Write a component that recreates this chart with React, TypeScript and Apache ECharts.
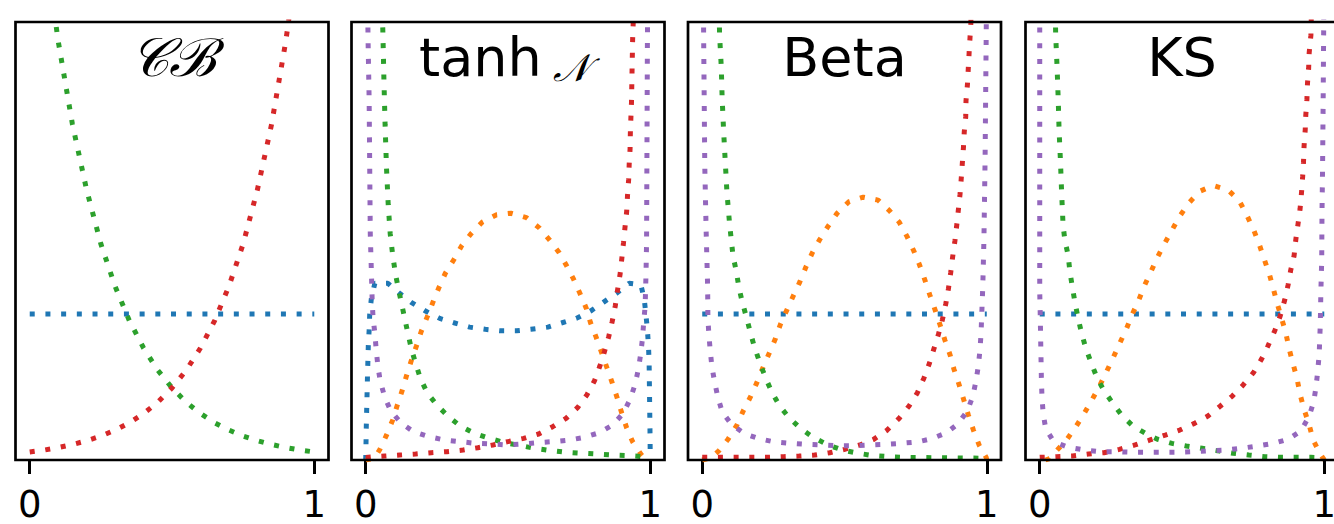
import React, { useEffect, useRef } from "react";
import * as echarts from "echarts";

// ---------- data ----------
const panelTitles = ["𝒞ℬ", "tanh", "Beta", "KS"];
const subTitle = "𝒩";
const tickValues = [0, 1];
const colors = ["#1f77b4", "#ff7f0e", "#2ca02c", "#d62728", "#9467bd"];

// Panel 1: continuous Bernoulli
const cbX = [0, 0.05, 0.1, 0.15, 0.2, 0.25, 0.3, 0.35, 0.4, 0.45, 0.5, 0.55, 0.6, 0.65, 0.7, 0.75, 0.8, 0.85, 0.9, 0.95, 1];
const cbBlue = [1, 1, 1, 1, 1, 1, 1, 1, 1, 1, 1, 1, 1, 1, 1, 1, 1, 1, 1, 1, 1];
const cbGreen = [4.46, 3.58, 2.87, 2.3, 1.85, 1.48, 1.19, 0.955, 0.767, 0.615, 0.494, 0.396, 0.318, 0.255, 0.205, 0.164, 0.132, 0.106, 0.085, 0.068, 0.055];
const cbRed = [0.055, 0.068, 0.085, 0.106, 0.132, 0.164, 0.205, 0.255, 0.318, 0.396, 0.494, 0.615, 0.767, 0.955, 1.19, 1.48, 1.85, 2.3, 2.87, 3.58, 4.46];

// Panel 2: tanh-normal
const tanhBlue = [[0, 0], [0.002, 0.23], [0.006, 0.56], [0.009, 0.78], [0.012, 0.89], [0.014, 1.0], [0.02, 1.11], [0.032, 1.21], [0.078, 1.21], [0.12, 1.14], [0.16, 1.08], [0.21, 1.02], [0.26, 0.97], [0.31, 0.94], [0.365, 0.91], [0.42, 0.895], [0.474, 0.885], [0.53, 0.885], [0.58, 0.895], [0.64, 0.91], [0.69, 0.94], [0.74, 0.97], [0.79, 1.02], [0.835, 1.08], [0.88, 1.14], [0.925, 1.21], [0.967, 1.2], [0.979, 1.1], [0.985, 0.99], [0.99, 0.89], [0.994, 0.77], [0.996, 0.66], [0.999, 0.2], [1, 0]];
const tanhOrange = [[0, 0], [0.03, 0.01], [0.049, 0.07], [0.073, 0.17], [0.094, 0.27], [0.11, 0.37], [0.128, 0.475], [0.143, 0.575], [0.16, 0.68], [0.178, 0.78], [0.195, 0.88], [0.216, 0.98], [0.236, 1.08], [0.257, 1.18], [0.28, 1.28], [0.309, 1.37], [0.338, 1.47], [0.37, 1.55], [0.41, 1.63], [0.46, 1.68], [0.51, 1.69], [0.565, 1.66], [0.61, 1.59], [0.645, 1.51], [0.68, 1.42], [0.706, 1.33], [0.73, 1.24], [0.753, 1.14], [0.775, 1.04], [0.79, 0.94], [0.81, 0.84], [0.83, 0.73], [0.848, 0.63], [0.866, 0.53], [0.883, 0.43], [0.9, 0.32], [0.917, 0.22], [0.938, 0.125], [0.967, 0.04], [0.985, 0.0]];
const tanhGreen = [[0.05, 3.5], [0.06, 2.95], [0.064, 2.6], [0.068, 2.3], [0.073, 2.0], [0.079, 1.75], [0.086, 1.55], [0.095, 1.4], [0.105, 1.27], [0.115, 1.17], [0.125, 1.08], [0.137, 0.97], [0.148, 0.87], [0.16, 0.765], [0.174, 0.67], [0.192, 0.56], [0.216, 0.46], [0.25, 0.377], [0.289, 0.3], [0.332, 0.233], [0.382, 0.183], [0.435, 0.148], [0.488, 0.119], [0.54, 0.1], [0.593, 0.08], [0.652, 0.064], [0.704, 0.053], [0.76, 0.046], [0.81, 0.041], [0.868, 0.034], [0.924, 0.03], [0.979, 0.023], [1, 0.02]];
const tanhRed = [[0, 0.018], [0.067, 0.027], [0.119, 0.034], [0.175, 0.041], [0.23, 0.05], [0.285, 0.057], [0.342, 0.068], [0.394, 0.084], [0.447, 0.103], [0.5, 0.126], [0.555, 0.148], [0.608, 0.178], [0.657, 0.228], [0.704, 0.285], [0.745, 0.36], [0.777, 0.445], [0.804, 0.543], [0.823, 0.644], [0.839, 0.742], [0.854, 0.845], [0.866, 0.947], [0.877, 1.055], [0.885, 1.164], [0.894, 1.274], [0.9, 1.38], [0.906, 1.49], [0.911, 1.59], [0.917, 1.7], [0.92, 1.81], [0.924, 1.92], [0.926, 2.03], [0.929, 2.13], [0.93, 2.24], [0.932, 2.35], [0.934, 2.45], [0.936, 2.67], [0.938, 2.88], [0.94, 2.99], [0.945, 3.5]];
const tanhPurple = [[0.005, 3.5], [0.008, 2.9], [0.012, 2.47], [0.014, 2.01], [0.016, 1.55], [0.02, 1.28], [0.023, 1.07], [0.026, 0.97], [0.032, 0.87], [0.037, 0.75], [0.043, 0.64], [0.051, 0.54], [0.067, 0.43], [0.087, 0.34], [0.123, 0.255], [0.168, 0.194], [0.222, 0.16], [0.277, 0.137], [0.33, 0.126], [0.386, 0.114], [0.44, 0.11], [0.497, 0.103], [0.552, 0.11], [0.605, 0.119], [0.66, 0.126], [0.716, 0.137], [0.768, 0.155], [0.821, 0.187], [0.868, 0.24], [0.905, 0.32], [0.929, 0.415], [0.947, 0.52], [0.959, 0.63], [0.967, 0.735], [0.973, 0.84], [0.977, 0.947], [0.982, 1.055], [0.985, 1.274], [0.987, 1.49], [0.99, 2.9], [0.993, 3.5]];

// Panel 3: Beta
const betaBlue = [[0, 1], [1, 1]];
const betaOrange = [[0, 0], [0.03, 0.015], [0.059, 0.064], [0.09, 0.14], [0.122, 0.24], [0.145, 0.34], [0.169, 0.43], [0.192, 0.53], [0.213, 0.63], [0.235, 0.73], [0.257, 0.83], [0.275, 0.93], [0.298, 1.03], [0.319, 1.12], [0.343, 1.22], [0.364, 1.32], [0.387, 1.42], [0.413, 1.51], [0.442, 1.6], [0.474, 1.69], [0.516, 1.77], [0.566, 1.8], [0.618, 1.78], [0.657, 1.71], [0.692, 1.63], [0.72, 1.53], [0.744, 1.43], [0.763, 1.34], [0.783, 1.23], [0.8, 1.13], [0.818, 1.03], [0.836, 0.925], [0.853, 0.82], [0.871, 0.72], [0.885, 0.62], [0.902, 0.52], [0.918, 0.42], [0.935, 0.31], [0.953, 0.205], [0.973, 0.103], [0.998, 0.018], [1, 0]];
const betaGreen = [[0.055, 3.5], [0.061, 2.91], [0.067, 2.69], [0.07, 2.48], [0.075, 2.26], [0.081, 2.04], [0.087, 1.83], [0.096, 1.62], [0.108, 1.4], [0.12, 1.29], [0.129, 1.18], [0.141, 1.08], [0.155, 0.98], [0.169, 0.875], [0.184, 0.77], [0.202, 0.67], [0.223, 0.56], [0.246, 0.46], [0.272, 0.37], [0.305, 0.29], [0.345, 0.217], [0.39, 0.155], [0.442, 0.103], [0.493, 0.068], [0.548, 0.046], [0.601, 0.03], [0.654, 0.023], [0.709, 0.018], [0.85, 0.015], [1, 0.012]];
const betaRed = [[0, 0.018], [0.231, 0.018], [0.286, 0.023], [0.34, 0.027], [0.395, 0.034], [0.448, 0.05], [0.501, 0.073], [0.554, 0.103], [0.601, 0.14], [0.65, 0.205], [0.692, 0.285], [0.727, 0.37], [0.756, 0.46], [0.779, 0.56], [0.798, 0.66], [0.814, 0.76], [0.83, 0.86], [0.844, 0.96], [0.856, 1.07], [0.865, 1.17], [0.873, 1.28], [0.88, 1.39], [0.888, 1.5], [0.894, 1.6], [0.9, 1.71], [0.906, 1.82], [0.91, 1.92], [0.914, 2.03], [0.918, 2.14], [0.921, 2.25], [0.926, 2.35], [0.927, 2.46], [0.932, 2.57], [0.935, 2.68], [0.938, 2.79], [0.941, 2.89], [0.944, 2.99], [0.95, 3.5]];
const betaPurple = [[0.003, 3.5], [0.005, 2.9], [0.009, 2.01], [0.014, 1.55], [0.019, 1.19], [0.02, 0.97], [0.023, 0.87], [0.028, 0.75], [0.034, 0.64], [0.043, 0.54], [0.055, 0.43], [0.07, 0.33], [0.102, 0.245], [0.149, 0.18], [0.2, 0.146], [0.255, 0.123], [0.31, 0.114], [0.366, 0.107], [0.423, 0.103], [0.477, 0.098], [0.533, 0.098], [0.587, 0.103], [0.642, 0.107], [0.697, 0.114], [0.754, 0.123], [0.806, 0.146], [0.857, 0.185], [0.9, 0.25], [0.932, 0.337], [0.951, 0.438], [0.962, 0.54], [0.97, 0.64], [0.976, 0.75], [0.98, 0.87], [0.982, 0.98], [0.986, 1.19], [0.99, 1.51], [0.994, 2.05], [0.998, 2.91], [1, 3.5]];

// Panel 4: KS
const ksBlue = [[0, 1], [1, 1]];
const ksOrange = [[0.02, 0], [0.035, 0.01], [0.056, 0.057], [0.094, 0.137], [0.127, 0.228], [0.155, 0.315], [0.182, 0.406], [0.209, 0.502], [0.233, 0.598], [0.257, 0.696], [0.28, 0.795], [0.304, 0.895], [0.324, 0.993], [0.347, 1.09], [0.367, 1.19], [0.391, 1.29], [0.414, 1.39], [0.438, 1.48], [0.465, 1.575], [0.492, 1.67], [0.524, 1.76], [0.562, 1.84], [0.61, 1.88], [0.661, 1.85], [0.7, 1.78], [0.727, 1.68], [0.751, 1.58], [0.771, 1.48], [0.788, 1.38], [0.806, 1.28], [0.82, 1.18], [0.835, 1.07], [0.85, 0.97], [0.865, 0.87], [0.876, 0.765], [0.89, 0.66], [0.904, 0.56], [0.915, 0.45], [0.929, 0.347], [0.947, 0.24], [0.961, 0.137], [0.986, 0.041], [1, 0]];
const ksGreen = [[0.052, 3.5], [0.056, 2.91], [0.061, 2.69], [0.065, 2.47], [0.068, 2.26], [0.073, 2.04], [0.077, 1.83], [0.082, 1.61], [0.088, 1.51], [0.1, 1.4], [0.106, 1.29], [0.115, 1.18], [0.124, 1.078], [0.135, 0.97], [0.147, 0.87], [0.162, 0.765], [0.18, 0.67], [0.202, 0.56], [0.226, 0.475], [0.257, 0.388], [0.288, 0.308], [0.327, 0.233], [0.371, 0.183], [0.414, 0.142], [0.465, 0.114], [0.515, 0.096], [0.571, 0.08], [0.624, 0.064], [0.68, 0.046], [0.735, 0.034], [0.791, 0.023], [0.845, 0.018], [0.953, 0.018], [1, 0.015]];
const ksRed = [[0, 0.018], [0.059, 0.023], [0.115, 0.027], [0.171, 0.041], [0.226, 0.05], [0.28, 0.073], [0.335, 0.103], [0.388, 0.137], [0.441, 0.171], [0.492, 0.205], [0.544, 0.251], [0.591, 0.301], [0.635, 0.37], [0.677, 0.438], [0.715, 0.514], [0.751, 0.598], [0.779, 0.689], [0.802, 0.781], [0.826, 0.886], [0.845, 0.986], [0.861, 1.096], [0.873, 1.2], [0.882, 1.3], [0.894, 1.4], [0.9, 1.51], [0.908, 1.62], [0.915, 1.72], [0.92, 1.83], [0.924, 1.94], [0.927, 2.04], [0.929, 2.15], [0.933, 2.26], [0.935, 2.36], [0.939, 2.47], [0.941, 2.58], [0.945, 2.68], [0.947, 2.79], [0.953, 2.91], [0.96, 3.5]];
const ksPurple = [[0, 3.5], [0, 1.15], [0.001, 1.07], [0.002, 0.97], [0.004, 0.75], [0.006, 0.54], [0.008, 0.43], [0.012, 0.32], [0.021, 0.215], [0.049, 0.126], [0.1, 0.087], [0.159, 0.068], [0.214, 0.057], [0.268, 0.057], [0.324, 0.053], [0.379, 0.053], [0.433, 0.053], [0.488, 0.053], [0.544, 0.057], [0.6, 0.064], [0.653, 0.068], [0.708, 0.08], [0.765, 0.096], [0.821, 0.114], [0.873, 0.142], [0.918, 0.2], [0.947, 0.3], [0.963, 0.4], [0.971, 0.5], [0.977, 0.61], [0.982, 0.72], [0.986, 0.93], [0.988, 1.15], [0.991, 1.37], [0.992, 1.69], [0.994, 2.0], [0.996, 2.44], [0.998, 2.97], [1, 3.5]];

// ---------- layout ----------
const gridLefts = [15.5, 351.5, 688, 1025.5];
const gridWidth = 313;
const gridTop = 22;
const gridHeight = 438;

function zipXY(xs: number[], ys: number[]) {
  return xs.map((x, i) => [x, ys[i]]);
}

export default function App() {
  const ref = useRef<HTMLDivElement>(null);
  useEffect(() => {
    if (!ref.current) return;
    const chart = echarts.init(ref.current, null, { renderer: "svg" });

    const panels: (number[][] | null)[][] = [
      [zipXY(cbX, cbBlue), null, zipXY(cbX, cbGreen), zipXY(cbX, cbRed), null],
      [tanhBlue, tanhOrange, tanhGreen, tanhRed, tanhPurple],
      [betaBlue, betaOrange, betaGreen, betaRed, betaPurple],
      [ksBlue, ksOrange, ksGreen, ksRed, ksPurple],
    ];

    const grids = gridLefts.map((l) => ({
      left: l,
      top: gridTop,
      width: gridWidth,
      height: gridHeight,
      show: true,
      borderColor: "#000",
      borderWidth: 2.7,
      backgroundColor: "transparent",
      containLabel: false,
      outerBoundsMode: "none",
      z: 10,
    }));

    const xAxes = gridLefts.map((_, i) => ({
      type: "value",
      gridIndex: i,
      min: -0.05,
      max: 1.05,
      splitLine: { show: false },
      axisLine: { show: false },
      axisTick: {
        show: true,
        customValues: tickValues,
        length: 14,
        lineStyle: { color: "#000", width: 3 },
      },
      axisLabel: {
        show: true,
        customValues: tickValues,
        fontSize: 37,
        lineHeight: 32,
        color: "#000",
        fontFamily: "DejaVu Sans",
        margin: 28,
        hideOverlap: false,
        formatter: (v: number) => String(v),
      },
    }));

    const yAxes = gridLefts.map((_, i) => ({
      type: "value",
      gridIndex: i,
      min: 0,
      max: 3,
      show: false,
      splitLine: { show: false },
    }));

    const series: any[] = [];
    panels.forEach((p, gi) => {
      p.forEach((data, ci) => {
        if (!data) return;
        series.push({
          type: "line",
          xAxisIndex: gi,
          yAxisIndex: gi,
          data,
          symbol: "none",
          showSymbol: false,
          clip: true,
          silent: true,
          lineStyle: { color: colors[ci], width: 5, type: [5, 10.7], cap: "butt" },
          z: 2 + ci,
        });
      });
    });

    const cx = (i: number) => gridLefts[i] + gridWidth / 2;
    const titleFont = "DejaVu Sans";
    const graphic: any[] = [
      {
        type: "text",
        x: cx(0),
        y: 57,
        z: 20,
        style: { text: panelTitles[0], fontSize: 54, fontFamily: "DejaVu Serif", fontStyle: "italic", fill: "#000", align: "center", verticalAlign: "middle" },
      },
      {
        type: "text",
        x: 419,
        y: 57,
        z: 20,
        style: { text: panelTitles[1], fontSize: 54, fontFamily: titleFont, fill: "#000", align: "left", verticalAlign: "middle" },
      },
      {
        type: "text",
        x: 553,
        y: 68,
        z: 20,
        style: { text: subTitle, fontSize: 38, fontFamily: "DejaVu Serif", fontStyle: "italic", fill: "#000", align: "left", verticalAlign: "middle" },
      },
      {
        type: "text",
        x: cx(2),
        y: 57,
        z: 20,
        style: { text: panelTitles[2], fontSize: 54, fontFamily: titleFont, fill: "#000", align: "center", verticalAlign: "middle" },
      },
      {
        type: "text",
        x: cx(3),
        y: 57,
        z: 20,
        style: { text: panelTitles[3], fontSize: 54, fontFamily: titleFont, fill: "#000", align: "center", verticalAlign: "middle" },
      },
    ];

    chart.setOption({
      animation: false,
      backgroundColor: "#fff",
      grid: grids,
      xAxis: xAxes,
      yAxis: yAxes,
      series,
      graphic,
    });
    return () => chart.dispose();
  }, []);
  return <div ref={ref} style={{ position: "fixed", left: 0, top: 0, width: 1334, height: 524 }} />;
}
